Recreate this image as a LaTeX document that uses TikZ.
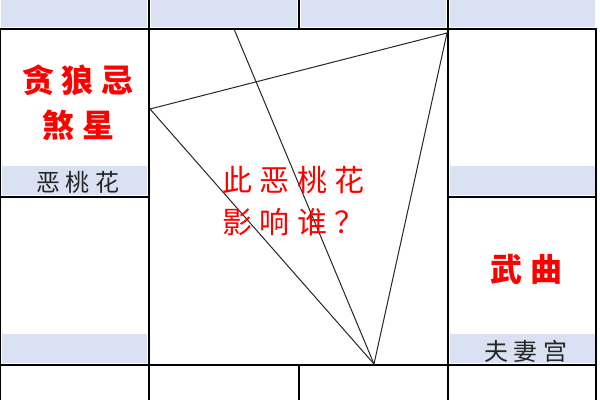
\documentclass[tikz,border=0pt]{standalone}
\usepackage{fontspec}
\usepackage{tikz}
\usetikzlibrary{positioning}
\newfontfamily\cjk{Noto Sans CJK SC}
\definecolor{cellblue}{RGB}{217,225,242}
\definecolor{starred}{RGB}{255,0,0}
\definecolor{palacegray}{RGB}{38,38,38}
\tikzset{
  cellfill/.style={fill=cellblue, draw=none},
  gridline/.style={line width=2pt, black},
  chartline/.style={line width=1pt, black!85},
  starlabel/.style={
    inner sep=0pt,
    text=starred,
    font=\cjk\bfseries\fontsize{32}{38}\selectfont\addfontfeature{LetterSpace=25}
  },
  asktext/.style={
    inner sep=0pt,
    text=starred,
    font=\cjk\fontsize{30}{36}\selectfont\addfontfeature{LetterSpace=25}
  },
  palacelabel/.style={
    inner sep=0pt,
    text=palacegray,
    font=\cjk\fontsize{24}{29}\selectfont\addfontfeature{LetterSpace=22}
  }
}
\begin{document}
\begin{tikzpicture}[x=1pt,y=-1pt]
        \useasboundingbox (0,0) rectangle (600,400);
        \fill[white] (0,0) rectangle (600,400);

        % blue cells
        \fill[cellfill] (1,0) rectangle (147,27);
        \fill[cellfill] (151,0) rectangle (297,27);
        \fill[cellfill] (301,0) rectangle (446,27);
        \fill[cellfill] (450,0) rectangle (595,27);
        \fill[cellfill] (2,166) rectangle (147,195);
        \fill[cellfill] (2,334) rectangle (147,363);
        \fill[cellfill] (450,166) rectangle (595,195);
        \fill[cellfill] (450,334) rectangle (595,363);

        % grid
        \draw[gridline] (0,29) -- (597,29);
        \draw[gridline] (0,365) -- (597,365);
        \draw[gridline] (0,197) -- (149,197);
        \draw[gridline] (448,197) -- (597,197);
        \draw[gridline] (149,0) -- (149,400);
        \draw[gridline] (448,0) -- (448,400);
        \draw[gridline] (299,0) -- (299,29);
        \draw[gridline] (299,365) -- (299,400);
        \draw[line width=1pt] (0.5,29) -- (0.5,400);
        \draw[line width=1.5pt] (596,29) -- (596,400);

        % chart lines
        \coordinate (Ming) at (150,109);
        \coordinate (Qian) at (447,33);
        \coordinate (Fu) at (374,364);
        \coordinate (Top) at (234,29);
        \draw[chartline] (Ming) -- (Qian) -- (Fu) -- cycle;
        \draw[chartline] (Top) -- (Fu);

        % labels
        \node [starlabel] (Tan) at (78,80) {贪狼忌};
        \node [starlabel] (Sha) at (78,125) {煞星};
        \node [palacelabel] (Tao) at (78,182) {恶桃花};
        \node [starlabel] (Wu) at (526,269) {武曲};
        \node [palacelabel] (Fuqi) at (526,351) {夫妻宫};

        \node [asktext, anchor=west] (Ask1) at (222,180) {此恶桃花};
        \node [asktext, below right=14pt and 0pt of Ask1.south west] (Ask2) {影响谁？};
      \end{tikzpicture}
\end{document}
